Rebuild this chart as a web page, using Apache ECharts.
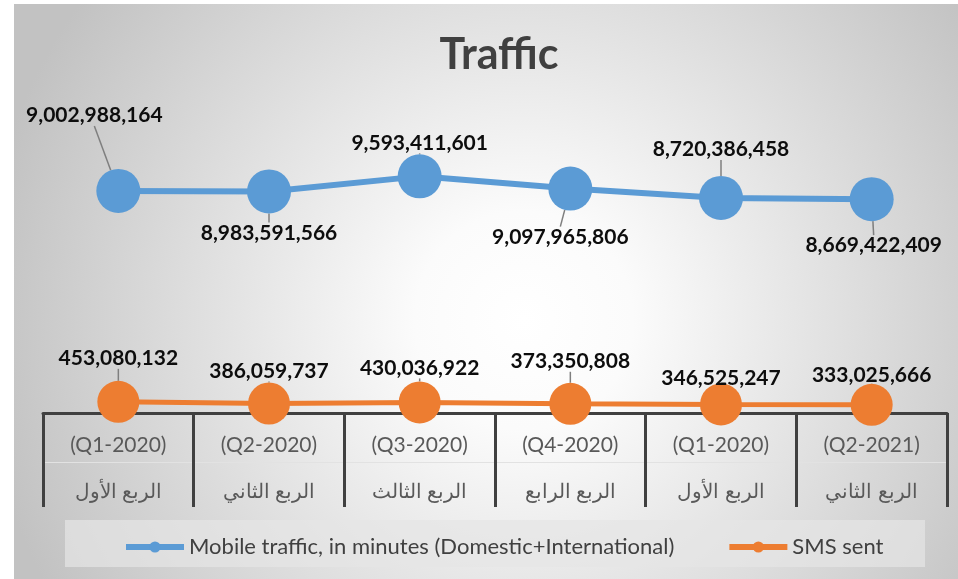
<!DOCTYPE html>
<html>
<head>
<meta charset="utf-8">
<script src="https://cdn.jsdelivr.net/npm/echarts@6/dist/echarts.min.js"></script>
<style>
  html, body { margin: 0; padding: 0; background: #fff; }
  #main { position: absolute; left: 14px; top: 4px; width: 944px; height: 575px; }
</style>
</head>
<body>
<div id="main"></div>
<script>
// 季度标签
var periods = ['Q1-2020', 'Q2-2020', 'Q3-2020', 'Q4-2020', 'Q1-2020', 'Q2-2021'];
var quartersAr = ['الربع الأول', 'الربع الثاني', 'الربع الثالث', 'الربع الرابع', 'الربع الأول', 'الربع الثاني'];
// 两条数据
var mobileTraffic = [9002988164, 8983591566, 9593411601, 9097965806, 8720386458, 8669422409];
var smsSent = [453080132, 386059737, 430036922, 373350808, 346525247, 333025666];

// 标签的微调偏移 (dx, dy)
var blueShift = [[-24, -38], [0, 4], [0, 4], [-10, 11], [0, -11], [2, 9]];
var orangeShift = [[0, -7], [0, 4], [0, 2], [0, -6], [0, 10], [0, 7]];

var categories = periods.map(function (p, i) {
    return '{q|(' + p + ')}\n{ar|' + quartersAr[i] + '}';
});

function fmt(p) {
    return p.value.toLocaleString('en-US');
}

var myChart = echarts.init(document.getElementById('main'));
var option = {
    backgroundColor: {
        type: 'radial', x: 0.54, y: 0.55, r: 0.95,
        colorStops: [
            { offset: 0, color: '#ffffff' },
            { offset: 0.2, color: '#fbfbfb' },
            { offset: 1, color: '#c2c2c2' }
        ]
    },
    title: {
        text: 'Traffic',
        left: 480,
        top: 25,
        textAlign: 'center',
        textStyle: { fontFamily: 'Lato', fontWeight: 'bold', fontSize: 43, color: '#404040' }
    },
    graphic: [{
        type: 'rect',
        left: 51, top: 516,
        shape: { width: 860, height: 47 },
        style: { fill: 'rgba(230,230,230,0.7)' },
        silent: true
    }],
    legend: {
        left: 104,
        top: 527,
        itemGap: 52,
        itemWidth: 58,
        itemHeight: 14,
        lineStyle: { width: 6 },
        textStyle: { fontFamily: 'Lato', fontSize: 22, color: '#404040' },
        data: ['Mobile traffic, in minutes (Domestic+International)', 'SMS sent']
    },
    grid: { left: 29, right: 11, top: 113, bottom: 166 },
    xAxis: [{
        type: 'category',
        data: categories,
        boundaryGap: true,
        axisLine: { lineStyle: { color: '#404040', width: 3 } },
        axisTick: { show: true, length: 94, lineStyle: { color: '#404040', width: 3 } },
        axisLabel: {
            margin: 9,
            color: '#595959',
            rich: {
                q: { fontFamily: 'Lato', fontSize: 21, lineHeight: 47, color: '#595959' },
                ar: { fontSize: 20, lineHeight: 47, color: '#595959' }
            }
        }
    }, {
        type: 'category',
        data: categories,
        position: 'bottom',
        offset: 49,
        axisLine: { lineStyle: { color: '#e2e2e2', width: 1 } },
        axisTick: { show: false },
        axisLabel: { show: false }
    }],
    yAxis: {
        type: 'value',
        min: 0,
        max: 12000000000,
        show: false,
        splitLine: { show: false }
    },
    series: [{
        name: 'Mobile traffic, in minutes (Domestic+International)',
        type: 'line',
        data: mobileTraffic.map(function (v, i) {
            return { value: v, label: { position: i % 2 ? 'bottom' : 'top' } };
        }),
        symbol: 'circle',
        symbolSize: 44,
        color: '#5b9bd5',
        lineStyle: { width: 6, color: '#5b9bd5' },
        itemStyle: { color: '#5b9bd5' },
        label: {
            show: true,
            formatter: fmt,
            fontFamily: 'Lato', fontWeight: 'bold', fontSize: 21, color: '#0d0d0d'
        },
        labelLine: { show: true, lineStyle: { color: '#7f7f7f', width: 1.5 } },
        labelLayout: function (p) {
            var s = blueShift[p.dataIndex];
            return { dx: s[0], dy: s[1] };
        }
    }, {
        name: 'SMS sent',
        type: 'line',
        data: smsSent,
        symbol: 'circle',
        symbolSize: 42,
        color: '#ed7d31',
        lineStyle: { width: 5, color: '#ed7d31' },
        itemStyle: { color: '#ed7d31' },
        label: {
            show: true,
            position: 'top',
            formatter: fmt,
            fontFamily: 'Lato', fontWeight: 'bold', fontSize: 21, color: '#0d0d0d'
        },
        labelLine: { show: true, lineStyle: { color: '#7f7f7f', width: 1.5 } },
        labelLayout: function (p) {
            var s = orangeShift[p.dataIndex];
            return { dx: s[0], dy: s[1] };
        }
    }]
};
myChart.setOption(option);
</script>
</body>
</html>
